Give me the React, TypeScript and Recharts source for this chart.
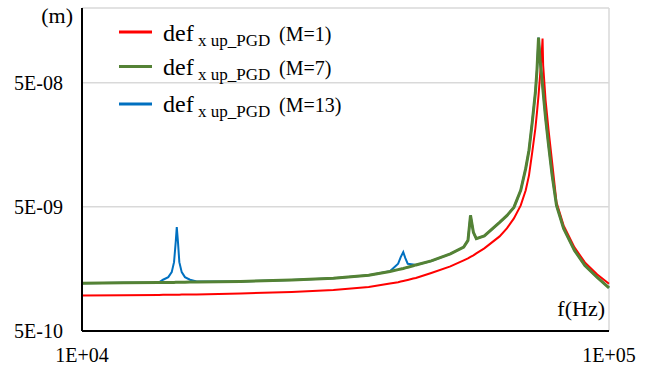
import React from "react";
import { LineChart, Line, XAxis, YAxis, CartesianGrid } from "recharts";

// frequency (Hz)
const freqs = [
  10000, 12000, 14000, 14250, 14580, 14800, 14950, 15060, 15130, 15210, 15300,
  15460, 15680, 16030, 16500, 20000, 25000, 30000, 35000, 38400, 39800, 40250,
  40700, 41070, 41500, 42500, 43000, 46000, 50000, 53000, 54000, 54600, 55300,
  56000, 58000, 62000, 64000, 66000, 68000, 69500, 70500, 71500, 72500, 73000,
  73500, 74000, 74500, 74800, 75000, 75800, 76800, 78000, 79500, 82000, 86000,
  90000, 95000, 100000,
];

// def x up_PGD (m), M=1
const defM1 = [
  9.66e-10, 9.72e-10, 9.77e-10, 9.78e-10, 9.79e-10, 9.79e-10, 9.79e-10, 9.8e-10,
  9.8e-10, 9.8e-10, 9.81e-10, 9.82e-10, 9.83e-10, 9.84e-10, 9.85e-10, 1.003e-9,
  1.031e-9, 1.071e-9, 1.132e-9, 1.205e-9, 1.237e-9, 1.252e-9, 1.265e-9,
  1.276e-9, 1.289e-9, 1.322e-9, 1.338e-9, 1.468e-9, 1.657e-9, 1.852e-9,
  1.921e-9, 1.976e-9, 2.032e-9, 2.109e-9, 2.314e-9, 2.891e-9, 3.354e-9,
  4.04e-9, 5.14e-9, 6.8e-9, 8.97e-9, 1.375e-8, 2.149e-8, 2.89e-8, 3.96e-8,
  5.75e-8, 8.33e-8, 1.136e-7, 6.92e-8, 3.61e-8, 2.07e-8, 1.143e-8, 5.44e-9,
  3.547e-9, 2.357e-9, 1.784e-9, 1.428e-9, 1.201e-9,
];

// M=7
const defM7 = [
  1.215e-9, 1.222e-9, 1.228e-9, 1.229e-9, 1.23e-9, 1.231e-9, 1.232e-9,
  1.233e-9, 1.233e-9, 1.234e-9, 1.235e-9, 1.236e-9, 1.237e-9, 1.239e-9,
  1.242e-9, 1.254e-9, 1.287e-9, 1.33e-9, 1.407e-9, 1.507e-9, 1.562e-9,
  1.578e-9, 1.596e-9, 1.614e-9, 1.632e-9, 1.678e-9, 1.703e-9, 1.834e-9,
  2.089e-9, 2.371e-9, 2.685e-9, 4.27e-9, 3.114e-9, 2.771e-9, 2.918e-9,
  3.749e-9, 4.25e-9, 4.95e-9, 6.8e-9, 1.022e-8, 1.43e-8, 2.4e-8, 4.19e-8,
  6.31e-8, 1.157e-7, 7.6e-8, 5.75e-8, 4.77e-8, 4.19e-8, 2.59e-8, 1.567e-8,
  8.97e-9, 5.14e-9, 3.354e-9, 2.23e-9, 1.687e-9, 1.35e-9, 1.115e-9,
];

// M=13
const defM13 = [
  1.215e-9, 1.222e-9, 1.232e-9, 1.294e-9, 1.358e-9, 1.49e-9, 1.794e-9, 2.6e-9,
  3.44e-9, 2.6e-9, 1.794e-9, 1.49e-9, 1.358e-9, 1.294e-9, 1.255e-9, 1.254e-9,
  1.287e-9, 1.33e-9, 1.407e-9, 1.515e-9, 1.742e-9, 1.968e-9, 2.16e-9,
  1.932e-9, 1.742e-9, 1.72e-9, 1.703e-9, 1.834e-9, 2.089e-9, 2.371e-9,
  2.685e-9, 4.27e-9, 3.114e-9, 2.771e-9, 2.918e-9, 3.749e-9, 4.25e-9, 4.95e-9,
  6.8e-9, 1.022e-8, 1.43e-8, 2.4e-8, 4.19e-8, 6.31e-8, 1.157e-7, 7.6e-8,
  5.75e-8, 4.77e-8, 4.19e-8, 2.59e-8, 1.567e-8, 8.97e-9, 5.14e-9, 3.354e-9,
  2.23e-9, 1.687e-9, 1.35e-9, 1.115e-9,
];

const xTicks = [10000, 100000];
const yTicks = [5e-10, 5e-9, 5e-8];

const series = [
  { key: "m1", label: "(M=1)", color: "#FF0000" },
  { key: "m7", label: "(M=7)", color: "#548235" },
  { key: "m13", label: "(M=13)", color: "#0070C0" },
];

const data = freqs.map((f, i) => ({
  f,
  m1: defM1[i],
  m7: defM7[i],
  m13: defM13[i],
}));

const FONT = '"Liberation Serif", "Times New Roman", Times, serif';

// 5e-10 -> 5E-10, 1e+4 -> 1E+04
const sci = (v: number) => {
  const [m, e] = v.toExponential(0).split("e");
  const n = Number(e);
  return `${m}E${n < 0 ? "-" : "+"}${String(Math.abs(n)).padStart(2, "0")}`;
};

const legendRows = [
  { line: 32, base: 40.5 },
  { line: 66.5, base: 74.5 },
  { line: 104, base: 111.5 },
];

const textStyle = { fontFamily: FONT };

export default function App() {
  return (
    <div style={{ position: "absolute", left: 0, top: 0, width: 652, height: 366 }}>
      <LineChart
        width={652}
        height={366}
        data={data}
        margin={{ top: 8, right: 43, bottom: 0, left: 0 }}
      >
        <CartesianGrid stroke="#d9d9d9" strokeWidth={1.5} />
        <XAxis
          dataKey="f"
          type="number"
          scale="log"
          domain={[10000, 100000]}
          ticks={xTicks}
          interval={0}
          tickFormatter={sci}
          tickLine={false}
          tickSize={0}
          tickMargin={17}
          height={35}
          axisLine={{ stroke: "#000", strokeWidth: 2 }}
          tick={{ fill: "#000", fontSize: 20, style: textStyle }}
        />
        <YAxis
          type="number"
          scale="log"
          domain={[5e-10, 2e-7]}
          ticks={yTicks}
          interval={0}
          tickFormatter={sci}
          tickLine={false}
          tickSize={0}
          tickMargin={19}
          width={82}
          axisLine={{ stroke: "#000", strokeWidth: 2 }}
          tick={{ fill: "#000", fontSize: 20, style: textStyle }}
        />
        <Line
          dataKey="m13"
          type="linear"
          stroke="#0070C0"
          strokeWidth={2}
          dot={false}
          isAnimationActive={false}
        />
        <Line
          dataKey="m1"
          type="linear"
          stroke="#FF0000"
          strokeWidth={2}
          dot={false}
          isAnimationActive={false}
        />
        <Line
          dataKey="m7"
          type="linear"
          stroke="#548235"
          strokeWidth={3}
          dot={false}
          isAnimationActive={false}
        />
      </LineChart>

      {/* axis units and legend */}
      <svg
        width={652}
        height={366}
        style={{ position: "absolute", left: 0, top: 0, pointerEvents: "none" }}
        fill="#000"
      >
        <text x={73} y={22.5} fontSize={22} textAnchor="end" style={textStyle}>(m)</text>
        <text x={605} y={316} fontSize={22} textAnchor="end" style={textStyle}>f(Hz)</text>
        {series.map((s, i) => {
          const r = legendRows[i];
          return (
            <g key={s.key} style={textStyle}>
              <line x1={119} x2={152} y1={r.line} y2={r.line} stroke={s.color} strokeWidth={3} />
              <text x={163} y={r.base} fontSize={24}>def</text>
              <text x={198} y={r.base + 5} fontSize={17}>x up_PGD</text>
              <text x={279} y={r.base} fontSize={20}>{s.label}</text>
            </g>
          );
        })}
      </svg>
    </div>
  );
}
